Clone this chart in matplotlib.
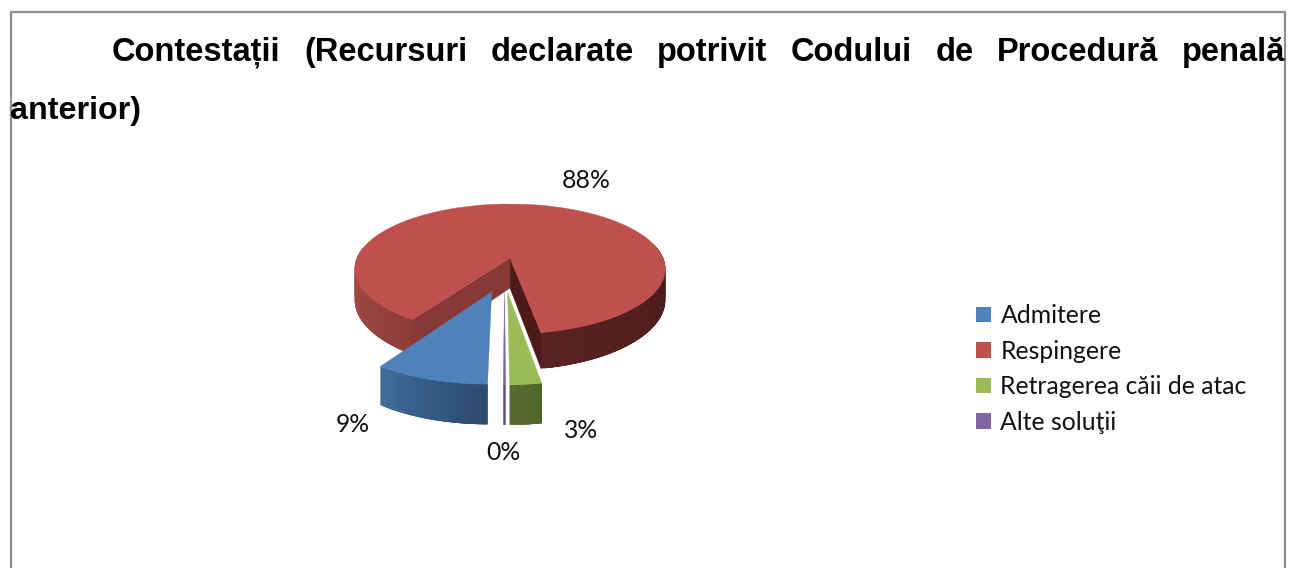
import numpy as np
import matplotlib
matplotlib.use("Agg")
import matplotlib.pyplot as plt
from matplotlib.patches import Wedge, Patch
from matplotlib.transforms import Transform
from matplotlib.colors import to_rgb

categories = ["Admitere", "Respingere", "Retragerea căii de atac", "Alte soluţii"]
values = [9.2, 88.1, 2.51, 0.19]
title_line1 = ["Contestații", "(Recursuri", "declarate", "potrivit", "Codului", "de", "Procedură", "penală"]
title_line2 = "anterior)"

colors = ["#4f81bd", "#c0504d", "#9bbb59", "#8064a2"]
# slice offsets from the pie centre, in unit-disc coordinates
offsets = [(-0.11, -0.494), (0, 0), (-0.014, -0.5), (-0.033, -0.5)]
# side-wall shading: (theta, colour) stops for each slice
wall_stops = [
    [(235, "#42709f"), (271, "#2b486c")],
    [(175, "#a94e4a"), (238, "#8e3d3a"), (281, "#5a2321"), (365, "#471917")],
    [(270, "#566d2f"), (282, "#4f6529")],
    [(270, "#5d4879"), (272, "#5d4879")],
]
cut_colors = [None, ("#883836", "#4c1b19"), None, None]
label_xy = [(353, 425), (586, 181), (581, 431), (503, 453)]

CX, CY, R, A, K, DEPTH = 510, 258, 153, 63.1, 0.169, 30


def project(u, v):
    u, v = np.asarray(u, float), np.asarray(v, float)
    s = 1 / (1 + K * v)
    return CX + R * u * s, CY - A * v * s, DEPTH * s


class Persp(Transform):
    input_dims = output_dims = 2
    has_inverse = False

    def transform_non_affine(self, xy):
        xy = np.asarray(xy, float)
        x, y, _ = project(xy[:, 0], xy[:, 1])
        return np.column_stack([x, y])


fig = plt.figure(figsize=(13.03, 5.68), dpi=100, facecolor="white")
ax = fig.add_axes([0, 0, 1, 1])
ax.set_xlim(0, 1303)
ax.set_ylim(568, 0)
ax.axis("off")

# frame
ax.plot([11, 11, 1285, 1285], [575, 11.5, 11.5, 575], color="#8e8e8e", lw=1.6, zorder=1)

# angles from values, clockwise from the start angle
fractions = np.array(values) / np.sum(values)
start = 270.0
ends = start - np.cumsum(fractions) * 360
starts = np.r_[start, ends[:-1]]
persp = Persp() + ax.transData


def wall_color(i, theta):
    theta = theta % 360
    if theta < 100:
        theta += 360
    st = wall_stops[i]
    th = [p[0] for p in st]
    rgb = np.array([to_rgb(p[1]) for p in st])
    return tuple(np.interp(theta, th, rgb[:, c]) for c in range(3))


def cut_face(off, theta, color, z):
    t = np.linspace(0, 1, 12)
    u = off[0] + t * np.cos(np.radians(theta))
    v = off[1] + t * np.sin(np.radians(theta))
    x, y, d = project(u, v)
    ax.fill(np.r_[x, x[::-1]], np.r_[y, (y + d)[::-1]], color=color, lw=0.3, zorder=z)


draw_order = [1, 0, 3, 2]
for n, i in enumerate(draw_order):
    z = 2 + n
    off = offsets[i]
    hi, lo = starts[i], ends[i]
    # outer wall, only on the part facing the viewer; strips overlap to avoid seams
    grid = np.unique(np.r_[np.arange(lo, hi, 1.0), hi])
    for a, b in zip(grid[:-1], grid[1:]):
        mid = (a + b) / 2
        if np.sin(np.radians(mid)) > 0.17:
            continue
        ang = np.linspace(np.radians(a), np.radians(min(b + 3.0, hi)), 8)
        x, y, d = project(off[0] + np.cos(ang), off[1] + np.sin(ang))
        ax.fill(np.r_[x, x[::-1]], np.r_[y, (y + d)[::-1]],
                color=wall_color(i, mid), lw=0, zorder=z)
    # cut faces of the large slice
    if cut_colors[i]:
        cut_face(off, lo, cut_colors[i][1], z)
        cut_face(off, hi, cut_colors[i][0], z)
    # top face
    w = Wedge(off, 1.0, lo, hi, facecolor=colors[i], edgecolor=colors[i], lw=0.3, zorder=z + 0.5)
    w.set_transform(persp)
    ax.add_patch(w)

ax.set_xlim(0, 1303)
ax.set_ylim(568, 0)

# percentage labels
pct_font = dict(family="Lato", size=17.8, color="#111111", ha="center", va="center", zorder=20)
for (x, y), val in zip(label_xy, values):
    ax.text(x, y, f"{val:.0f}%", **pct_font)

# legend
handles = [Patch(facecolor=c, edgecolor="none") for c in colors]
ax.legend(handles, categories, loc="center left", bbox_to_anchor=(969 / 1303, 1 - 369 / 568),
          frameon=False, prop=dict(family="Lato", size=17.8), labelcolor="#111111",
          handlelength=0.607, handleheight=0.607, handletextpad=0.365, labelspacing=0.506,
          borderpad=0.3, borderaxespad=0)

# justified title
title_font = dict(family="Liberation Sans", weight="bold", size=23.5, color="black", va="baseline", zorder=30)
fig.canvas.draw()
rend = fig.canvas.get_renderer()
texts = [ax.text(0, 61, w, **title_font) for w in title_line1]
widths = [t.get_window_extent(rend).width for t in texts]
left, right = 112, 1285
gap = (right - left - sum(widths)) / (len(texts) - 1)
x = left
for t, wd in zip(texts, widths):
    t.set_x(x)
    x += wd + gap
title_font["size"] = 23.2
ax.text(10, 118.5, title_line2, **title_font)

fig.savefig("out.png", dpi=100, facecolor="white")
